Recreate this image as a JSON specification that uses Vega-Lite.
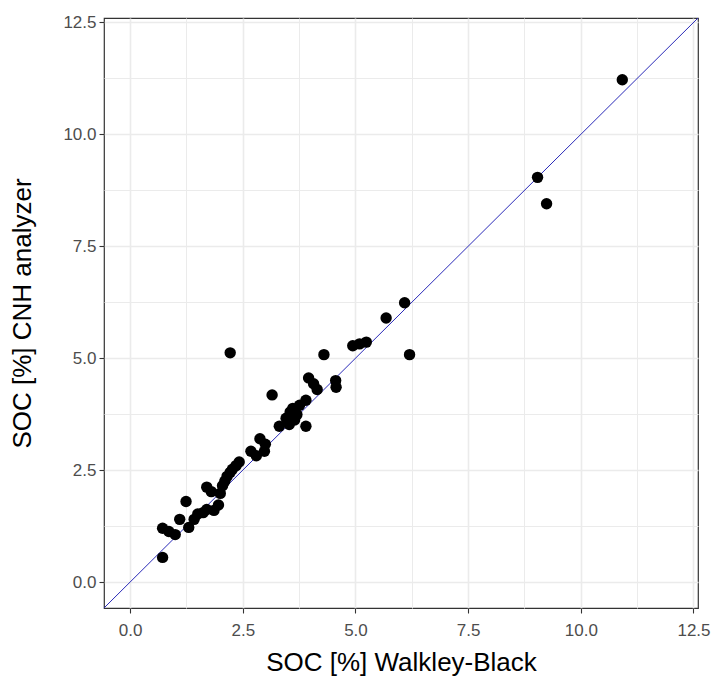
{
  "$schema": "https://vega.github.io/schema/vega-lite/v6.json",
  "width": 594,
  "height": 590,
  "autosize": {"type": "none"},
  "padding": {"left": 104, "top": 18, "right": 18, "bottom": 71},
  "background": "white",
  "config": {
    "view": {"stroke": "#333333", "strokeWidth": 1.2},
    "font": "Liberation Sans",
    "axis": {
      "domain": false,
      "gridColor": "#ebebeb",
      "gridWidth": {"condition": {"test": "datum.value % 2.5 !== 0", "value": 1}, "value": 1.6},
      "tickColor": "#333333",
      "tickOpacity": {"condition": {"test": "datum.value % 2.5 !== 0", "value": 0}, "value": 1},
      "tickSize": 5,
      "tickWidth": 1.1,
      "labelColor": "#4d4d4d",
      "labelFontSize": 17,
      "labelFont": "Liberation Sans",
      "titleFont": "Liberation Sans",
      "titleFontSize": 26,
      "titleFontWeight": "normal",
      "titleColor": "#000000"
    }
  },
  "layer": [
    {
      "data": {"values": [{"a": -1, "b": -1}, {"a": 13, "b": 13}]},
      "mark": {"type": "line", "color": "#2a2ab8", "strokeWidth": 1, "clip": true},
      "encoding": {
        "x": {"field": "a", "type": "quantitative"},
        "y": {"field": "b", "type": "quantitative"}
      }
    },
    {
      "data": {"values": [
        {"wb": 0.72, "cnh": 0.55}, {"wb": 0.72, "cnh": 1.20}, {"wb": 0.86, "cnh": 1.13},
        {"wb": 1.00, "cnh": 1.06}, {"wb": 1.10, "cnh": 1.40}, {"wb": 1.24, "cnh": 1.80},
        {"wb": 1.30, "cnh": 1.22}, {"wb": 1.42, "cnh": 1.40}, {"wb": 1.50, "cnh": 1.52},
        {"wb": 1.62, "cnh": 1.55}, {"wb": 1.70, "cnh": 1.62}, {"wb": 1.70, "cnh": 2.12},
        {"wb": 1.80, "cnh": 2.02}, {"wb": 1.86, "cnh": 1.60}, {"wb": 1.96, "cnh": 1.72},
        {"wb": 2.00, "cnh": 1.98}, {"wb": 2.05, "cnh": 2.15}, {"wb": 2.10, "cnh": 2.25},
        {"wb": 2.15, "cnh": 2.36}, {"wb": 2.22, "cnh": 2.45}, {"wb": 2.27, "cnh": 2.52},
        {"wb": 2.35, "cnh": 2.60}, {"wb": 2.42, "cnh": 2.68}, {"wb": 2.68, "cnh": 2.92},
        {"wb": 2.80, "cnh": 2.82}, {"wb": 2.88, "cnh": 3.20}, {"wb": 2.98, "cnh": 2.92},
        {"wb": 3.00, "cnh": 3.08}, {"wb": 3.15, "cnh": 4.18}, {"wb": 3.31, "cnh": 3.48},
        {"wb": 3.46, "cnh": 3.66}, {"wb": 3.53, "cnh": 3.52}, {"wb": 3.55, "cnh": 3.80},
        {"wb": 3.61, "cnh": 3.88}, {"wb": 3.65, "cnh": 3.62}, {"wb": 3.70, "cnh": 3.74},
        {"wb": 3.76, "cnh": 3.95}, {"wb": 3.90, "cnh": 4.06}, {"wb": 3.90, "cnh": 3.48},
        {"wb": 3.96, "cnh": 4.56}, {"wb": 4.07, "cnh": 4.43}, {"wb": 4.15, "cnh": 4.30},
        {"wb": 4.30, "cnh": 5.08}, {"wb": 4.56, "cnh": 4.50}, {"wb": 4.57, "cnh": 4.35},
        {"wb": 4.94, "cnh": 5.28}, {"wb": 5.09, "cnh": 5.32}, {"wb": 5.24, "cnh": 5.36},
        {"wb": 5.68, "cnh": 5.90}, {"wb": 6.09, "cnh": 6.24}, {"wb": 6.20, "cnh": 5.08},
        {"wb": 9.04, "cnh": 9.04}, {"wb": 9.24, "cnh": 8.45}, {"wb": 10.92, "cnh": 11.22},
        {"wb": 2.22, "cnh": 5.12}
      ]},
      "mark": {"type": "point", "shape": "circle", "filled": true, "color": "#000000", "opacity": 1, "size": 130},
      "encoding": {
        "x": {
          "field": "wb", "type": "quantitative",
          "scale": {"domain": [-0.58, 12.6], "nice": false, "zero": false},
          "axis": {
            "title": "SOC [%] Walkley-Black",
            "values": [0, 1.25, 2.5, 3.75, 5, 6.25, 7.5, 8.75, 10, 11.25, 12.5],
            "labelExpr": "datum.value % 2.5 === 0 ? format(datum.value, '.1f') : ''",
            "labelPadding": 9,
            "titlePadding": 11
          }
        },
        "y": {
          "field": "cnh", "type": "quantitative",
          "scale": {"domain": [-0.58, 12.6], "nice": false, "zero": false},
          "axis": {
            "title": "SOC [%] CNH analyzer",
            "values": [0, 1.25, 2.5, 3.75, 5, 6.25, 7.5, 8.75, 10, 11.25, 12.5],
            "labelExpr": "datum.value % 2.5 === 0 ? format(datum.value, '.1f') : ''",
            "labelPadding": 3,
            "titlePadding": 27
          }
        }
      }
    }
  ]
}
